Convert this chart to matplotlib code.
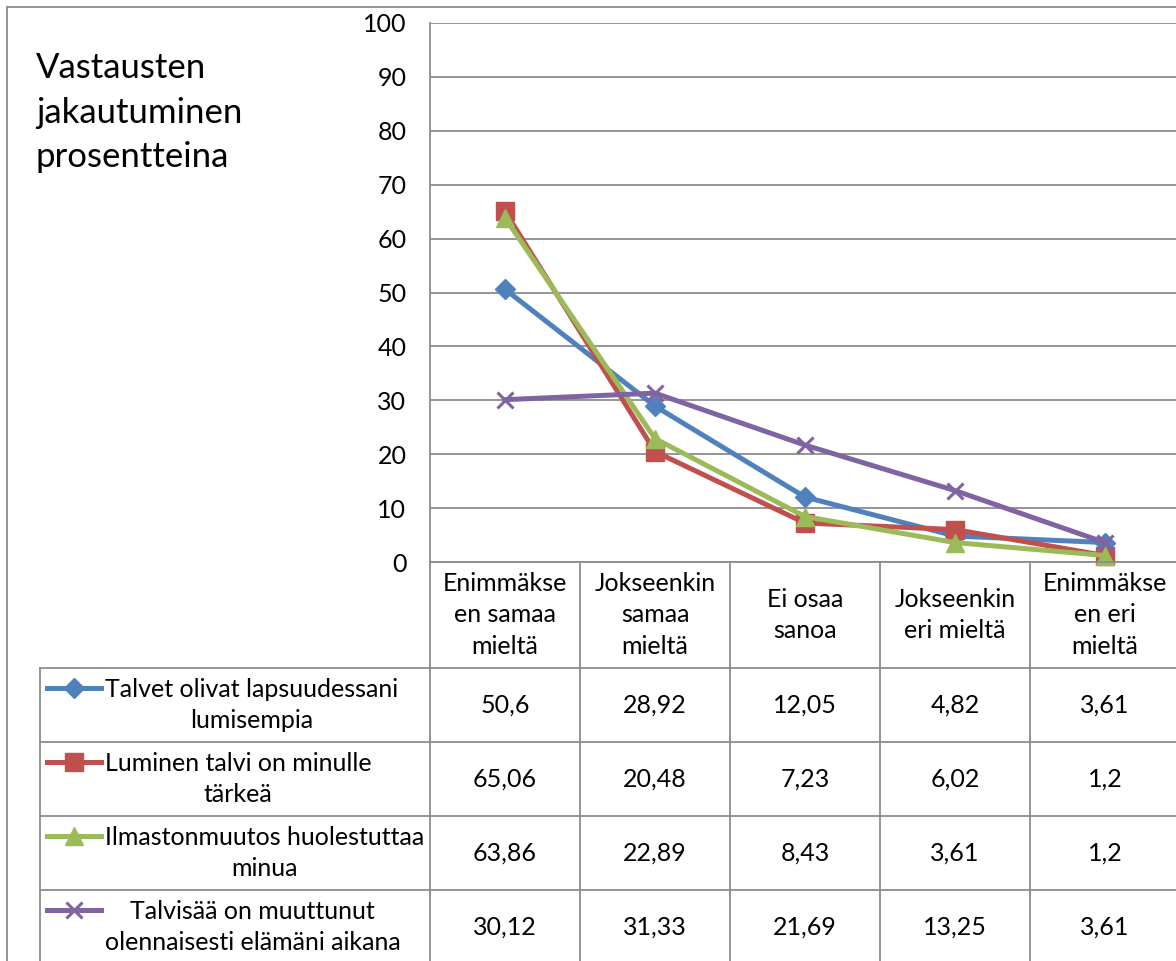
import matplotlib
matplotlib.use("Agg")
import matplotlib.pyplot as plt
from matplotlib.lines import Line2D

plt.rcParams['font.family'] = ['Lato', 'DejaVu Sans']

categories = ["Enimmäkse\nen samaa\nmieltä", "Jokseenkin\nsamaa\nmieltä", "Ei osaa\nsanoa",
              "Jokseenkin\neri mieltä", "Enimmäkse\nen eri\nmieltä"]
series_names = ["Talvet olivat lapsuudessani\nlumisempia",
                "Luminen talvi on minulle\ntärkeä",
                "Ilmastonmuutos huolestuttaa\nminua",
                "Talvisää on muuttunut\nolennaisesti elämäni aikana"]
talvet = [50.6, 28.92, 12.05, 4.82, 3.61]
luminen = [65.06, 20.48, 7.23, 6.02, 1.2]
ilmasto = [63.86, 22.89, 8.43, 3.61, 1.2]
talvisaa = [30.12, 31.33, 21.69, 13.25, 3.61]
yticks = [0, 10, 20, 30, 40, 50, 60, 70, 80, 90, 100]

colors = ['#4F81BD', '#C0504D', '#9BBB59', '#8064A2']
markers = ['D', 's', '^', 'x']
msizes = [10, 13, 13, 12]
grid = '#8c8c8c'
fs = 18

W, H = 1176, 961
fig = plt.figure(figsize=(W / 100, H / 100), dpi=100)


def fx(x):
    return x / W


def fy(y):
    return 1 - y / H


def hline(x0, x1, y, lw=1.3):
    fig.add_artist(Line2D([fx(x0), fx(x1)], [fy(y), fy(y)], color=grid, lw=lw))


def vline(x, y0, y1, lw=1.3):
    fig.add_artist(Line2D([fx(x), fx(x)], [fy(y0), fy(y1)], color=grid, lw=lw))


# plot area: x from 430 to 1180 px, y from 23 (100) to 562 (0)
ax = fig.add_axes([fx(430), fy(562), (1180 - 430) / W, (562 - 23) / H])
data = [talvet, luminen, ilmasto, talvisaa]
xs = [i + 0.5 for i in range(len(categories))]
for vals, c, m, ms in zip(data, colors, markers, msizes):
    ax.plot(xs, vals, color=c, lw=3.6, marker=m, markersize=ms,
            markeredgecolor=c, markeredgewidth=2.2 if m == 'x' else 1, clip_on=False)
ax.set_xlim(0, 5)
ax.set_ylim(0, 100)
ax.set_yticks(yticks)
ax.set_yticklabels([str(t) for t in yticks], fontsize=fs)
ax.set_xticks([])
ax.tick_params(axis='y', length=0, pad=17)
ax.yaxis.grid(True, color=grid, lw=1.3)
ax.set_axisbelow(True)
for s in ['top', 'right']:
    ax.spines[s].set_visible(False)
for s in ['left', 'bottom']:
    ax.spines[s].set_color(grid)
    ax.spines[s].set_linewidth(1.3)

# outer chart border
hline(7, W, 7)
vline(7, 7, H)

# title
for txt, yb in zip(["Vastausten", "jakautuminen", "prosentteina"], [78, 123, 167]):
    fig.text(fx(36), fy(yb), txt, fontsize=25, ha='left', va='baseline')

# data table
col_edges = [430, 580, 730, 880, 1030, 1180]
row_edges = [562, 668, 742, 816, 890, 964]
for x in col_edges:
    vline(x, 562, H)
vline(40, 668, H)
for y in row_edges[1:]:
    hline(40, W, y)

for i, cat in enumerate(categories):
    cx = (col_edges[i] + col_edges[i + 1]) / 2
    fig.text(fx(cx), fy(615), cat, fontsize=fs, ha='center', va='center',
             multialignment='center', linespacing=1.45)

for r, (name, vals, c, m, ms) in enumerate(zip(series_names, data, colors, markers, msizes)):
    cy = (row_edges[r + 1] + row_edges[r + 2]) / 2
    top = row_edges[r + 1]
    key_y = top + 20
    fig.add_artist(Line2D([fx(47), fx(101)], [fy(key_y), fy(key_y)], color=c, lw=3.6))
    fig.add_artist(Line2D([fx(74)], [fy(key_y)], color=c, marker=m, markersize=ms,
                          markeredgecolor=c, markeredgewidth=2.2 if m == 'x' else 1))
    fig.text(fx(105), fy(cy), name, fontsize=fs, ha='left', va='center',
             multialignment='center', linespacing=1.45)
    for i, v in enumerate(vals):
        cx = (col_edges[i] + col_edges[i + 1]) / 2
        fig.text(fx(cx), fy(cy), str(v).replace('.', ','), fontsize=fs,
                 ha='center', va='center')

fig.savefig("out.png", dpi=100)
